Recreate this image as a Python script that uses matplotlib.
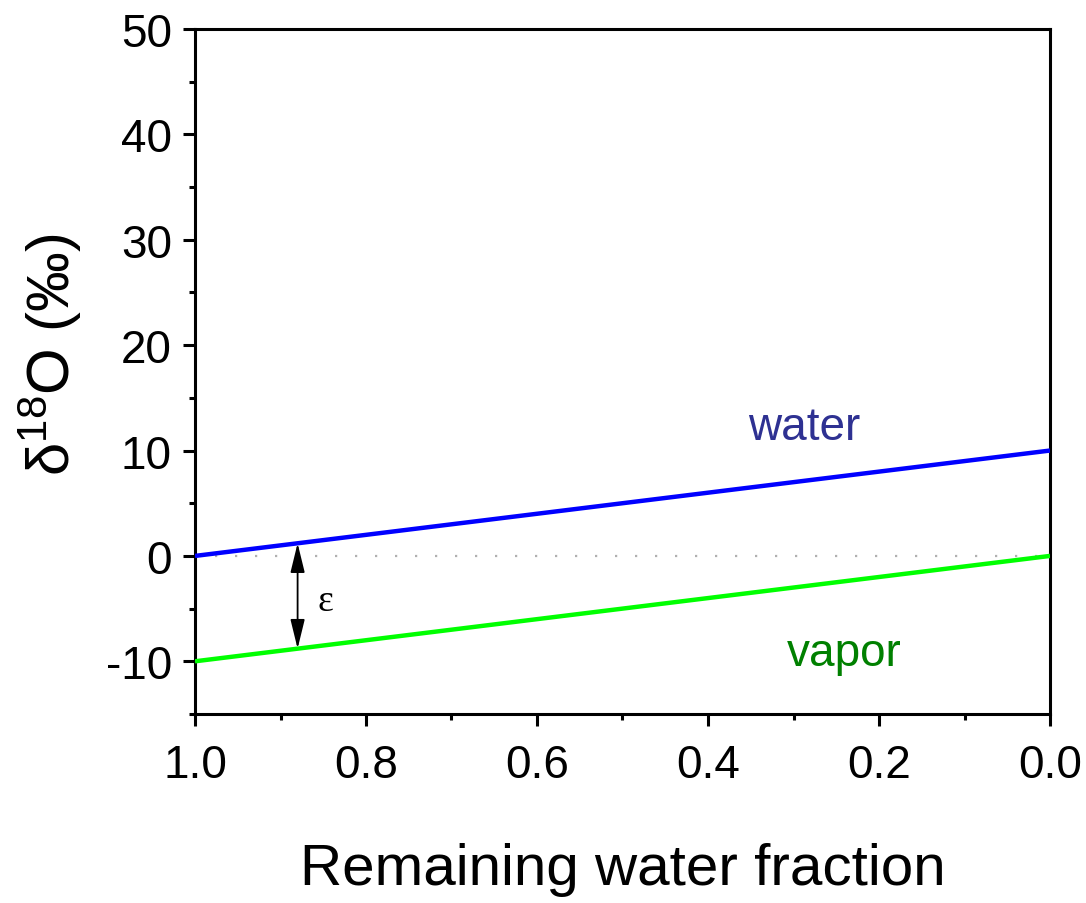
import matplotlib
matplotlib.use("Agg")
import matplotlib.pyplot as plt
from matplotlib.ticker import MultipleLocator

plt.rcParams['font.family'] = ['Liberation Sans', 'DejaVu Sans']
plt.rcParams['mathtext.fontset'] = 'custom'
plt.rcParams['mathtext.rm'] = 'Liberation Sans'
plt.rcParams['mathtext.default'] = 'regular'

# Rayleigh-type enrichment: remaining water fraction vs delta-18O
fraction = [1.0, 0.0]
water = [0.0, 10.0]
vapor = [-10.0, 0.0]

# epsilon arrow position (fraction) and the values it spans
eps_f = 0.88
eps_top = 1.2
eps_bottom = -8.8

xticks = [1.0, 0.8, 0.6, 0.4, 0.2, 0.0]
xticklabels = ["1.0", "0.8", "0.6", "0.4", "0.2", "0.0"]
yticks = [-10, 0, 10, 20, 30, 40, 50]
yticklabels = ["-10", "0", "10", "20", "30", "40", "50"]

fig = plt.figure(figsize=(10.86, 9.04), dpi=100)
ax = fig.add_axes([195/1086, 1 - 715/904, (1050-195)/1086, (715-30)/904])

ax.plot(fraction, [0, 0], color='#b0b0b0', lw=1.6, linestyle=(0, (1, 8)), zorder=1)
ax.plot(fraction, water, color='#0000ff', lw=3.2, solid_capstyle='butt', zorder=3)
ax.plot(fraction, vapor, color='#00ff00', lw=3.2, solid_capstyle='butt', zorder=3)

ax.annotate('', xy=(eps_f, eps_top), xytext=(eps_f, eps_bottom),
            arrowprops=dict(arrowstyle='<|-|>,head_length=0.9,head_width=0.22',
                            color='black', lw=1.3, shrinkA=0, shrinkB=0,
                            mutation_scale=20), zorder=4)
ax.text(0.848, -4.3, 'ε', fontsize=27, family=['Liberation Serif', 'DejaVu Serif'],
        ha='center', va='center')

ax.text(0.287, 12.2, 'water', fontsize=33, color='#2e3192', ha='center', va='center')
ax.text(0.241, -9.2, 'vapor', fontsize=33, color='#008000', ha='center', va='center')

ax.set_xlim(1.0, 0.0)
ax.set_ylim(-15, 50)
ax.set_xticks(xticks)
ax.set_xticklabels(xticklabels)
ax.set_yticks(yticks)
ax.set_yticklabels(yticklabels)
ax.xaxis.set_minor_locator(MultipleLocator(0.1))
ax.yaxis.set_minor_locator(MultipleLocator(5))

for s in ax.spines.values():
    s.set_linewidth(2.2)
ax.tick_params(which='major', direction='out', length=8.6, width=2.2,
               labelsize=33, top=False, right=False)
ax.tick_params(which='minor', direction='out', length=4.3, width=2.2,
               top=False, right=False)
ax.tick_params(axis='x', which='major', pad=12)
ax.tick_params(axis='y', which='major', pad=8)

ax.set_xlabel('Remaining water fraction', fontsize=42, labelpad=40)
ax.set_ylabel(r'δ$^{18}$O (‰)', fontsize=43)
ax.yaxis.set_label_coords(-0.13, 0.526)

fig.savefig('out.png', dpi=100, facecolor='white')
